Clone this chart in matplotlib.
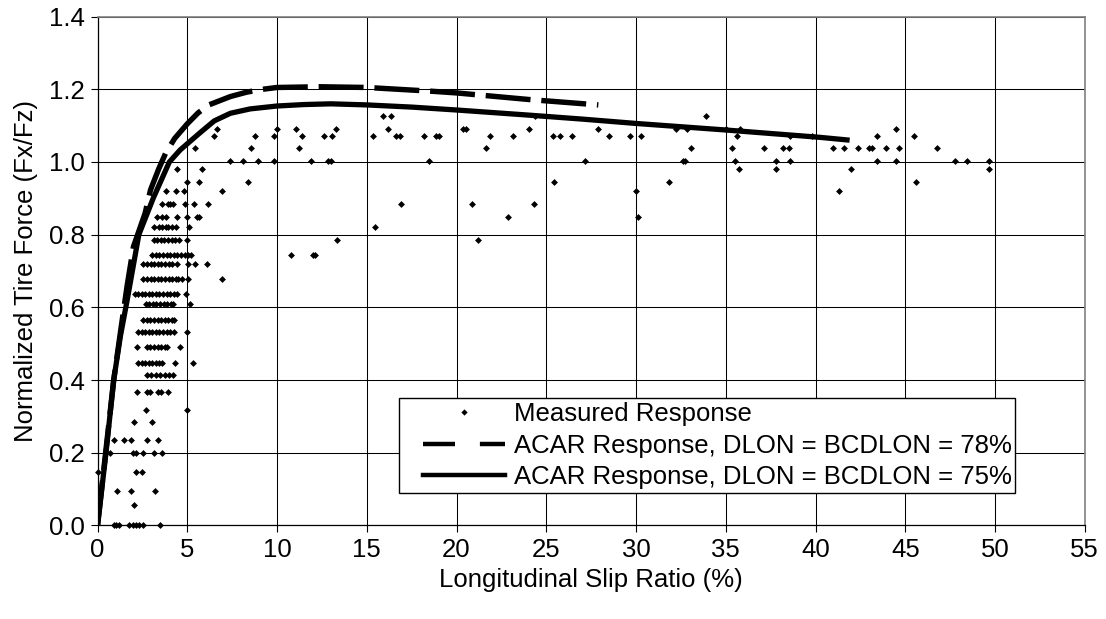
import matplotlib
matplotlib.use("Agg")
import matplotlib.pyplot as plt
from matplotlib.lines import Line2D
from matplotlib.legend_handler import HandlerLine2D
from matplotlib.ticker import FormatStrFormatter

plt.rcParams['font.family'] = ['Liberation Sans', 'DejaVu Sans']
FS = 18.5

# Axis ticks
x_ticks = [0, 5, 10, 15, 20, 25, 30, 35, 40, 45, 50, 55]
y_ticks = [0.0, 0.2, 0.4, 0.6, 0.8, 1.0, 1.2, 1.4]

# Measured response: longitudinal slip (%) and normalized force (Fx/Fz)
measured_slip = [
    0.90, 1.05, 1.20, 1.73, 1.95, 2.15, 2.30, 2.55, 3.49,
    2.04,
    1.08, 1.86, 3.21,
    0.00, 2.12, 2.50,
    0.68, 2.00, 2.15, 2.56, 3.17, 3.58,
    0.90, 1.50, 1.84, 2.73, 3.38,
    2.03, 3.05,
    2.71, 4.97,
    2.19, 2.75, 2.90, 3.39, 3.55, 3.95,
    2.75, 3.00, 3.25, 3.50, 3.75, 4.00, 4.20,
    2.25, 2.45, 2.65, 2.85, 3.05, 3.25, 3.45, 3.60, 4.32, 5.30,
    2.19, 2.75, 2.95, 3.15, 3.35, 3.55, 3.75, 3.86, 4.60,
    2.25, 2.45, 2.65, 2.85, 3.05, 3.25, 3.45, 3.65, 3.85, 4.05, 4.25, 4.99,
    2.55, 2.75, 2.95, 3.15, 3.35, 3.55, 3.75, 3.95, 4.15, 4.25,
    2.68, 2.88, 3.08, 3.28, 3.48, 3.68, 3.88, 4.08, 4.23, 5.16,
    2.06, 2.25, 2.45, 2.65, 2.85, 3.05, 3.25, 3.45, 3.65, 3.85, 4.05, 4.25, 4.40, 4.90,
    2.56, 2.76, 2.96, 3.16, 3.36, 3.56, 3.76, 3.96, 4.16, 4.36, 4.50, 4.69, 5.06, 6.95,
    2.56, 2.76, 2.96, 3.16, 3.36, 3.56, 3.76, 3.96, 4.16, 4.42, 5.03, 5.45, 6.08,
    3.05, 3.25, 3.45, 3.65, 3.85, 4.05, 4.25, 4.45, 4.65, 4.85, 5.05, 5.22, 10.77, 12.00, 12.12,
    3.12, 3.32, 3.52, 3.72, 3.92, 4.12, 4.32, 4.55, 4.97, 13.32, 21.21,
    3.16, 3.40, 3.58, 3.80, 3.95, 4.15, 4.38, 5.08, 15.47,
    3.30, 3.58, 3.82, 4.45, 4.98, 5.53, 5.66, 22.88, 30.10,
    3.58, 3.90, 4.05, 4.20, 4.88, 5.36, 6.15, 16.92, 20.86, 24.32,
    3.84, 4.35, 4.80, 6.92, 30.00, 41.30,
    5.00, 5.64, 8.36, 25.43, 31.86, 45.58,
    4.43, 5.80, 35.71, 37.78, 41.95, 49.66,
    7.38, 8.12, 8.95, 9.84, 11.88, 12.84, 12.98, 18.49, 27.16, 32.62, 32.74,
    35.53, 37.78, 38.58, 43.45, 44.47, 47.75, 48.43, 49.66,
    5.42, 8.56, 11.21, 21.64, 33.06, 35.34, 37.12, 38.17, 38.54, 40.99, 41.60,
    42.38, 42.99, 43.16, 43.95, 44.64, 46.78,
    6.49, 8.77, 9.84, 11.40, 12.62, 13.08, 15.34, 16.64, 16.86, 18.21, 18.86,
    19.04, 21.86, 23.12, 25.38, 25.75, 26.45, 28.49, 29.66, 30.25, 35.62, 38.58,
    39.78, 43.45, 45.49,
    6.68, 10.00, 11.04, 13.27, 16.18, 20.34, 20.53, 24.04, 27.88, 32.25, 32.84,
    35.00, 35.80, 44.50,
    15.90, 16.36, 24.38, 33.92,
]
measured_force = (
    [0.000] * 9 +
    [0.057] * 1 +
    [0.095] * 3 +
    [0.148] * 3 +
    [0.200] * 6 +
    [0.235] * 5 +
    [0.285] * 2 +
    [0.319] * 2 +
    [0.368] * 6 +
    [0.414] * 7 +
    [0.447] * 10 +
    [0.491] * 9 +
    [0.533] * 12 +
    [0.564] * 10 +
    [0.608] * 10 +
    [0.636] * 14 +
    [0.678] * 14 +
    [0.718] * 13 +
    [0.744] * 15 +
    [0.785] * 11 +
    [0.822] * 9 +
    [0.848] * 9 +
    [0.884] * 10 +
    [0.921] * 6 +
    [0.946] * 6 +
    [0.980] * 6 +
    [1.003] * 19 +
    [1.038] * 17 +
    [1.071] * 25 +
    [1.091] * 14 +
    [1.127] * 4
)

# ACAR model, DLON = BCDLON = 78%
acar78_slip = [0, 0.45, 0.9, 1.3, 1.65, 2.0, 2.65, 2.95, 3.4, 3.8, 4.3, 5.0, 5.6,
               6.2, 7.4, 8.3, 9.2, 10.0, 12.4, 15.0, 18.5, 20.0, 24.0, 27.9]
acar78_force = [0, 0.2, 0.4, 0.54, 0.66, 0.767, 0.859, 0.923, 0.98, 1.025, 1.065,
                1.105, 1.135, 1.157, 1.180, 1.192, 1.200, 1.205, 1.207, 1.205,
                1.195, 1.190, 1.172, 1.157]

# ACAR model, DLON = BCDLON = 75%
acar75_slip = [0, 0.47, 0.9, 1.27, 1.65, 2.3, 3.1, 4.0, 4.6, 5.7, 6.5, 7.4, 8.5,
               10.0, 11.5, 13.0, 15.0, 17.5, 20.0, 24.0, 27.0, 30.0, 35.0, 40.2, 41.9]
acar75_force = [0, 0.2, 0.4, 0.52, 0.62, 0.8, 0.9, 1.0, 1.033, 1.08, 1.113, 1.134,
                1.146, 1.154, 1.158, 1.160, 1.157, 1.151, 1.143, 1.129, 1.118,
                1.106, 1.088, 1.068, 1.060]

series_labels = [
    "Measured Response",
    "ACAR Response, DLON = BCDLON = 78%",
    "ACAR Response, DLON = BCDLON = 75%",
]


class InsetLineHandler(HandlerLine2D):
    """Legend line drawn only over the right part of the handle box."""

    def __init__(self, inset=0.2, **kw):
        super().__init__(**kw)
        self.inset = inset

    def create_artists(self, legend, orig_handle, xdescent, ydescent,
                       width, height, fontsize, trans):
        shift = width * self.inset
        return super().create_artists(legend, orig_handle, xdescent - shift,
                                      ydescent, width - shift, height,
                                      fontsize, trans)


fig = plt.figure(figsize=(11.06, 6.19), dpi=100)
ax = fig.add_axes([0.0882, 0.1511, 0.8926, 0.8221])

ax.set_xlim(0, 55)
ax.set_ylim(0, 1.4)
ax.set_xticks(x_ticks)
ax.set_yticks(y_ticks)
ax.yaxis.set_major_formatter(FormatStrFormatter('%.1f'))
ax.grid(True, color='black', linewidth=0.75)
ax.set_axisbelow(True)

for side in ('top', 'right'):
    ax.spines[side].set_color('#808080')
    ax.spines[side].set_linewidth(1.2)
for side in ('left', 'bottom'):
    ax.spines[side].set_color('black')
    ax.spines[side].set_linewidth(0.9)

ax.tick_params(direction='out', length=5, width=0.8, colors='black',
               labelsize=FS, pad=4)

ax.plot(measured_slip, measured_force, linestyle='none', marker='D',
        markersize=3.5, markeredgewidth=0, color='black', zorder=3,
        clip_on=False)
ax.plot(acar78_slip, acar78_force, color='black', linewidth=3.9,
        dashes=(8.3, 2.0), zorder=4)
ax.plot(acar75_slip, acar75_force, color='black', linewidth=3.8,
        solid_capstyle='butt', zorder=4)

ax.set_xlabel("Longitudinal Slip Ratio (%)", fontsize=FS, labelpad=4)
ax.set_ylabel("Normalized Tire Force (Fx/Fz)", fontsize=FS, labelpad=8)

h_meas = Line2D([], [], linestyle='none', marker='D', markersize=3.2,
                markeredgewidth=0, color='black')
h_78 = Line2D([], [], color='black', linewidth=3.2, dashes=(7.2, 5.6))
h_75 = Line2D([], [], color='black', linewidth=3.2)
handler = InsetLineHandler(inset=0.2)
leg = ax.legend([h_meas, h_78, h_75], series_labels,
                loc='upper left', bbox_to_anchor=(0.3054, 0.2505),
                borderaxespad=0, fontsize=FS, frameon=True, fancybox=False,
                framealpha=1, edgecolor='black', borderpad=0.15,
                labelspacing=0.3, handlelength=3.96, handletextpad=0.35,
                handler_map={h_meas: handler, h_78: handler, h_75: handler})
leg.get_frame().set_linewidth(1.0)
leg.set_zorder(6)

fig.savefig("out.png", dpi=100, facecolor='white')
